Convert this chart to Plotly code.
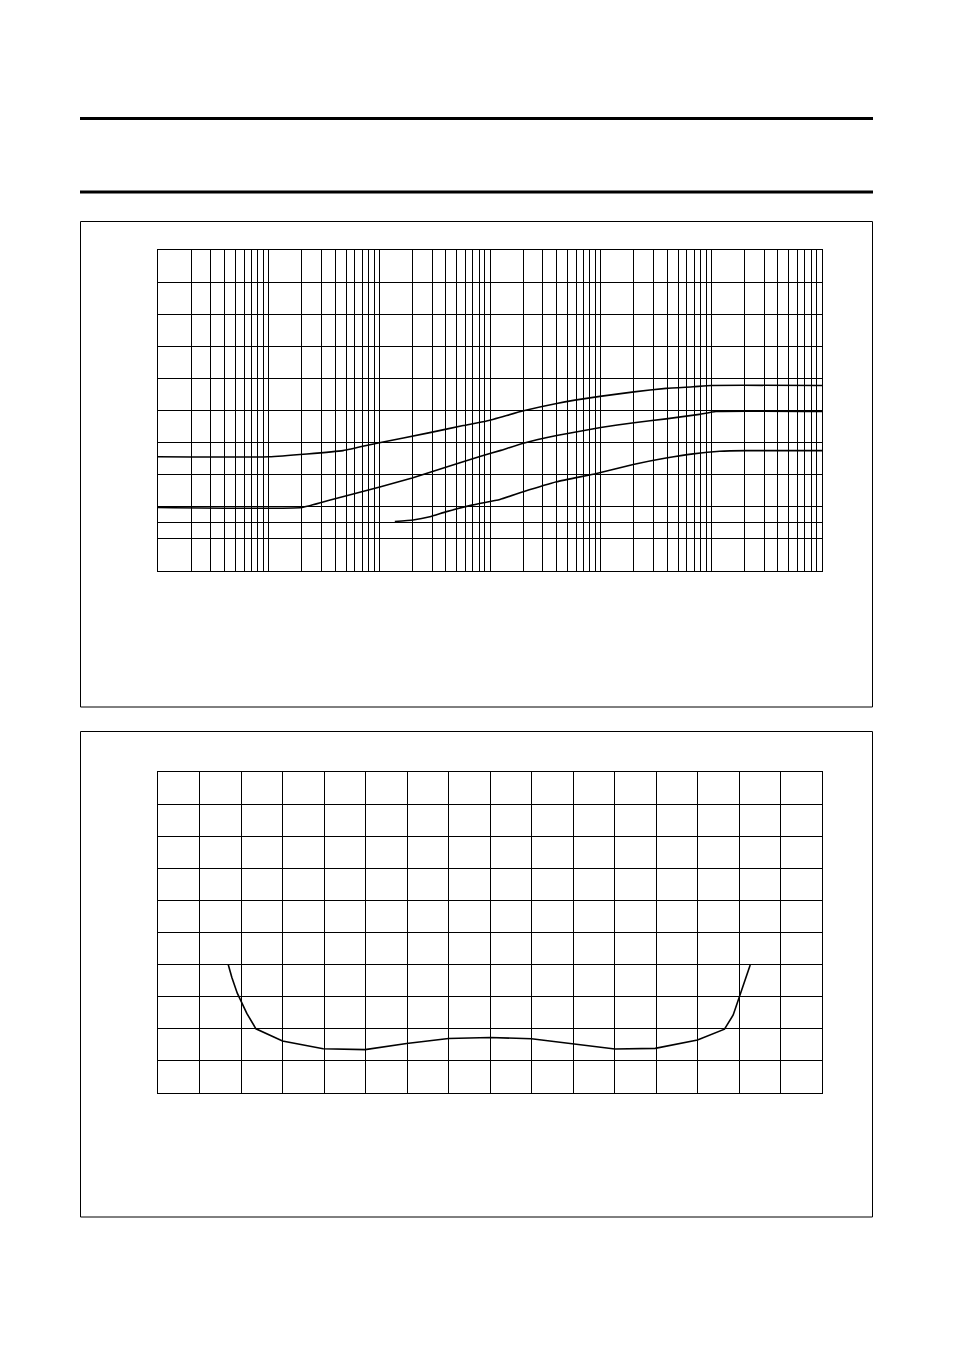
import plotly.graph_objects as go

# --- top chart: three curves on a log x axis (1 .. 1e6), linear y (0 .. 10)
curve_a_x = [1, 10, 47, 95, 286, 573, 932, 2010, 4000, 9840, 20000, 39000, 68500, 100000, 1000000]
curve_a_y = [3.56, 3.56, 3.75, 3.98, 4.31, 4.53, 4.67, 4.99, 5.22, 5.44, 5.58, 5.69, 5.74, 5.78, 5.78]

curve_b_x = [1, 20, 36, 101, 198, 405, 810, 1230, 2000, 4000, 10000, 20000, 39000, 78000, 110000, 1000000]
curve_b_y = [1.98, 1.98, 2.21, 2.62, 2.90, 3.24, 3.57, 3.75, 3.98, 4.22, 4.47, 4.62, 4.74, 4.88, 4.97, 4.97]

curve_c_x = [138, 202, 286, 405, 700, 1230, 2000, 4000, 9180, 19700, 39000, 68500, 119000, 208000, 1000000]
curve_c_y = [1.54, 1.59, 1.69, 1.85, 2.06, 2.23, 2.47, 2.78, 3.04, 3.32, 3.52, 3.65, 3.73, 3.75, 3.75]

top_x_grid = [m * 10 ** k for k in range(6) for m in range(1, 10)] + [10 ** 6]
top_y_grid = [0, 1, 1.5, 2, 3, 4, 5, 6, 7, 8, 9, 10]

# --- bottom chart: one bathtub-shaped curve on a linear 16 x 10 grid
bath_x = [1.69, 1.78, 1.91, 2.14, 2.36, 3.0, 3.98, 4.99, 5.99, 7.0, 8.0, 9.0,
          11.01, 11.98, 13.0, 13.65, 13.86, 13.98, 14.1, 14.27]
bath_y = [4.01, 3.60, 3.11, 2.48, 2.00, 1.62, 1.38, 1.35, 1.54, 1.70, 1.73, 1.69,
          1.37, 1.39, 1.65, 1.99, 2.43, 2.90, 3.31, 3.99]

bottom_x_grid = list(range(0, 17))
bottom_y_grid = list(range(0, 11))

W, H = 954, 1348
OFF = 8  # the page body adds an 8px margin round the plot


def px_x(v):
    return (v - OFF) / W


def px_y(v):
    return 1 - (v - OFF) / H


fig = go.Figure()

for xs, ys in [(curve_a_x, curve_a_y), (curve_b_x, curve_b_y), (curve_c_x, curve_c_y)]:
    fig.add_trace(go.Scatter(x=xs, y=ys, mode='lines',
                             line=dict(color='black', width=1.6, shape='spline', smoothing=0.4),
                             xaxis='x', yaxis='y', showlegend=False, hoverinfo='skip'))

fig.add_trace(go.Scatter(x=bath_x, y=bath_y, mode='lines', line=dict(color='black', width=1.6),
                         xaxis='x2', yaxis='y2', showlegend=False, hoverinfo='skip'))

axis_common = dict(showgrid=True, gridcolor='black', gridwidth=1, zeroline=False,
                   showline=True, linecolor='black', linewidth=1, mirror=True,
                   showticklabels=False, ticks='', tickmode='array', fixedrange=True)

fig.update_layout(
    width=W, height=H,
    margin=dict(l=0, r=0, t=0, b=0),
    paper_bgcolor='white', plot_bgcolor='white',
    xaxis=dict(type='log', range=[0, 6], tickvals=top_x_grid,
               domain=[px_x(158), px_x(822)], anchor='y', **axis_common),
    yaxis=dict(range=[0, 10], tickvals=top_y_grid,
               domain=[px_y(571), px_y(250)], anchor='x', **axis_common),
    xaxis2=dict(range=[0, 16], tickvals=bottom_x_grid,
                domain=[px_x(158), px_x(822)], anchor='y2', **axis_common),
    yaxis2=dict(range=[0, 10], tickvals=bottom_y_grid,
                domain=[px_y(1093), px_y(772)], anchor='x2', **axis_common),
)

# page furniture: two heavy rules and the two frames around the figures
for y in (118.5, 192):
    fig.add_shape(type='line', xref='paper', yref='paper',
                  x0=px_x(80), x1=px_x(873), y0=px_y(y), y1=px_y(y),
                  line=dict(color='black', width=3))
for top, bottom in ((221.5, 707), (731.5, 1217)):
    fig.add_shape(type='rect', xref='paper', yref='paper',
                  x0=px_x(80.5), x1=px_x(872.5), y0=px_y(bottom), y1=px_y(top),
                  line=dict(color='black', width=1))

fig.write_html("out.html", config={'displayModeBar': False})
